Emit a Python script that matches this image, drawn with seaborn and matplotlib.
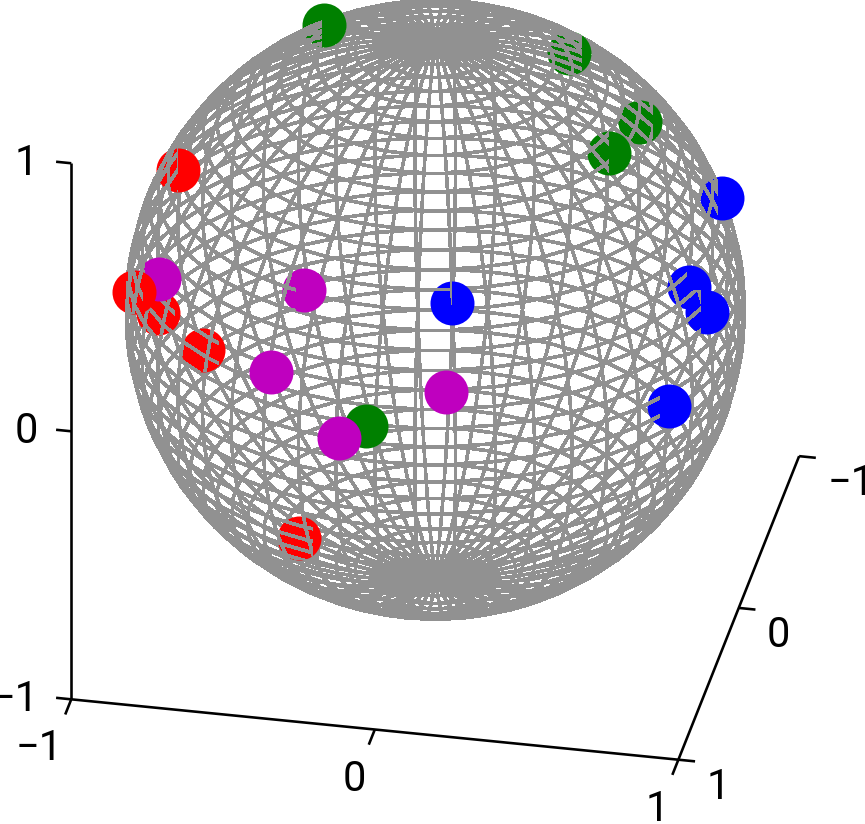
import numpy as np
import pandas as pd
import matplotlib
matplotlib.use("Agg")
import matplotlib.pyplot as plt
import seaborn as sns
from matplotlib.collections import LineCollection
from matplotlib.patches import Rectangle

# points on the unit sphere, in drawing order
point_group = ["green", "green", "green", "green", "green",
               "red", "red", "red",
               "magenta", "magenta", "magenta", "magenta", "magenta",
               "red", "red",
               "blue", "blue", "blue", "blue", "blue"]
point_x = [-0.031, 0.665, 0.613, -0.415, 0.402,
           -0.803, -0.612, -0.272,
           -0.812, -0.268, -0.361, 0.222, -0.120,
           -0.803, -0.922,
           0.891, 0.893, 0.944, 0.869, 0.219]
point_y = [0.991, -0.052, 0.199, -0.249, -0.188,
           0.558, 0.761, 0.882,
           0.499, 0.819, 0.902, 0.941, 0.990,
           0.217, 0.352,
           -0.274, 0.285, 0.237, 0.494, 0.826]
point_z = [0.125, 0.746, 0.765, 0.876, 0.896,
           0.213, 0.213, -0.383,
           0.307, 0.507, 0.237, 0.252, 0.069,
           0.555, 0.161,
           0.363, 0.347, 0.231, 0.017, 0.518]
# share of each marker (from its left side and from its top) that the mesh runs over
mesh_cover_w = [0.0, 0.8, 0.5, 0.45, 0.8,
                0.9, 0.85, 0.8,
                0.2, 0.3, 0.0, 0.0, 0.0,
                0.5, 0.7,
                0.4, 0.45, 0.35, 0.3, 0.5]
mesh_cover_h = [1, 1, 1, 1, 1,
                1, 1, 1,
                1, 1, 1, 1, 1,
                1, 1,
                1, 1, 1, 1, 0.55]

x_ticks = [-1, 0, 1]
y_ticks = [1, 0, -1]
z_ticks = [1, 0, -1]
tick_text = {-1: "\u22121", 0: "0", 1: "1"}

colors = {"red": "#ff0000", "green": "#008000", "blue": "#0000ff", "magenta": "#bf00bf"}
mesh_color = "#919191"

W, H, DPI = 865, 824, 100
SCALE = 309.5  # pixels per data unit
CX, CY = 435.2, 309.7
PX = 72 / DPI
MARKER = 44  # pixels
N = 48

# view of the axes: azimuth 11.25 deg, elevation 30 deg, y axis reversed
az = np.radians(11.25)
el = np.radians(30)


def project(x, y, z):
    x, y, z = np.asarray(x, float), np.asarray(y, float), np.asarray(z, float)
    u = x * np.cos(az) - y * np.sin(az)
    v = -x * np.sin(az) * np.sin(el) - y * np.cos(az) * np.sin(el) + z * np.cos(el)
    d = x * np.sin(az) * np.cos(el) + y * np.cos(az) * np.cos(el) + z * np.sin(el)
    return u, v, d


sns.set_theme(style="white")
plt.rcParams["font.family"] = ["Arimo", "Roboto", "DejaVu Sans"]

fig = plt.figure(figsize=(W / DPI, H / DPI), dpi=DPI)
ax = fig.add_axes([0, 0, 1, 1])
xlim = (-CX / SCALE, (W - CX) / SCALE)
ylim = ((CY - H) / SCALE, CY / SCALE)

# sphere mesh
theta = np.linspace(-np.pi, np.pi, N + 1)
phi = np.linspace(-np.pi / 2, np.pi / 2, N + 1)
tt, pp = np.meshgrid(theta, phi)
sx, sy, sz = np.cos(pp) * np.cos(tt), np.cos(pp) * np.sin(tt), np.sin(pp)
mu, mv, md = project(sx, sy, sz)

segs, seg_depth = [], []
for i in range(N + 1):
    for j in range(N):
        segs.append([(mu[i, j], mv[i, j]), (mu[i, j + 1], mv[i, j + 1])])
        seg_depth.append((md[i, j] + md[i, j + 1]) / 2)
        segs.append([(mu[j, i], mv[j, i]), (mu[j + 1, i], mv[j + 1, i])])
        seg_depth.append((md[j, i] + md[j + 1, i]) / 2)
segs = np.array(segs)
seg_depth = np.array(seg_depth)
front_segs = segs[seg_depth > 0]

mesh_kw = dict(colors=mesh_color, linewidths=2.6 * PX, antialiaseds=False, capstyle="round")
ax.add_collection(LineCollection(segs, zorder=1, **mesh_kw))

# points, with the front of the mesh over part of each one
df = pd.DataFrame({"group": point_group, "x": point_x, "y": point_y, "z": point_z,
                   "cover_w": mesh_cover_w, "cover_h": mesh_cover_h})
df["u"], df["v"], df["d"] = project(df["x"], df["y"], df["z"])
r = MARKER / 2 / SCALE
for i, row in df.iterrows():
    sns.scatterplot(x=[row["u"]], y=[row["v"]], color=colors[row["group"]], s=(MARKER * PX) ** 2,
                    linewidth=0, antialiased=False, zorder=2 + 2 * i, legend=False, ax=ax)
    if row["cover_w"] > 0:
        clip = Rectangle((row["u"] - r, row["v"] + r - 2 * r * row["cover_h"]),
                         2 * r * row["cover_w"], 2 * r * row["cover_h"], transform=ax.transData)
        over = LineCollection(front_segs, zorder=3 + 2 * i, **mesh_kw)
        ax.add_collection(over)
        over.set_clip_path(clip)

# axis lines
line_kw = dict(color="black", lw=2.6 * PX, solid_capstyle="butt", zorder=100)


def axis_line(p0, p1):
    u, v, _ = project(*np.array([p0, p1]).T)
    ax.plot(u, v, **line_kw)


def tick_label(p, text, dx, dy, ha):
    u, v, _ = project(*p)
    ax.annotate(text, (u, v), xytext=(dx * PX, -dy * PX), textcoords="offset points",
                ha=ha, va="center", fontsize=30, color="black", zorder=101)


axis_line((-1, 1, -1), (1, 1, -1))
axis_line((1, 1, -1), (1, -1, -1))
axis_line((-1, 1, -1), (-1, 1, 1))
for t in x_ticks:
    axis_line((t, 1, -1), (t, 1.1, -1))
    tick_label((t, 1, -1), tick_text[t], -9, 49.5, "right")
for t in y_ticks:
    axis_line((1, t, -1), (1.055, t, -1))
    tick_label((1, t, -1), tick_text[t], 28, 27.5, "left")
for t in z_ticks:
    axis_line((-1, 1, t), (-1.05, 1, t))
    tick_label((-1, 1, t), tick_text[t], -33, 0, "right")

ax.set_xlim(xlim)
ax.set_ylim(ylim)
ax.set_axis_off()
fig.savefig("out.png", dpi=DPI)
